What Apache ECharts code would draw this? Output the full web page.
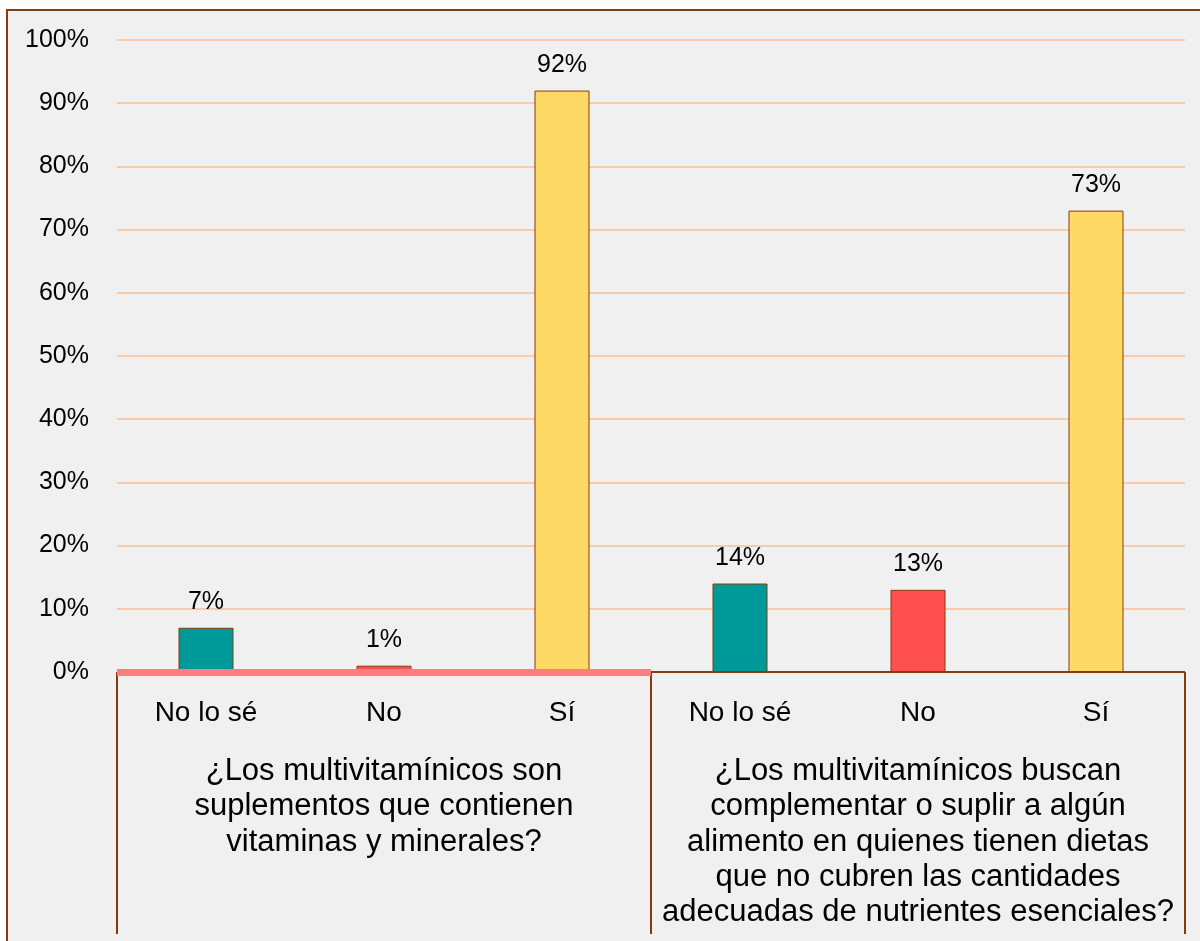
<!DOCTYPE html>
<html>
<head>
<meta charset="utf-8">
<script src="https://cdn.jsdelivr.net/npm/echarts@6/dist/echarts.min.js"></script>
<style>
  html, body { margin: 0; padding: 0; background: #ffffff; overflow: hidden; width: 1200px; height: 941px; }
  #chart {
    position: absolute; left: 6px; top: 9px;
    width: 1200px; height: 940px;
    border: 2px solid #843c0c;
    background: #f0f0f0;
  }
</style>
</head>
<body>
<div id="chart"></div>
<script>
// Survey answers per question
const answers = ['No lo sé', 'No', 'Sí'];
const questions = [
  '¿Los multivitamínicos son\nsuplementos que contienen\nvitaminas y minerales?',
  '¿Los multivitamínicos buscan\ncomplementar o suplir a algún\nalimento en quienes tienen dietas\nque no cubren las cantidades\nadecuadas de nutrientes esenciales?'
];
const valuesQ1 = [7, 1, 92];
const valuesQ2 = [14, 13, 73];

// Colour per answer
const answerColors = ['#009999', '#ff5050', '#ffd966'];
const FONT = "'Liberation Sans', Arial, sans-serif";
const BROWN = '#843c0c';

const chart = echarts.init(document.getElementById('chart'), null, { renderer: 'canvas' });

function grid(left) {
  return { left: left, top: 29, width: 534, height: 632, containLabel: false };
}

function answerAxis(gi, lineColor, lineWidth) {
  return {
    type: 'category', gridIndex: gi, data: answers, position: 'bottom', z: 5,
    axisLine: { show: true, lineStyle: { color: lineColor, width: lineWidth, cap: 'butt' } },
    axisTick: { show: false },
    axisLabel: { fontFamily: FONT, fontSize: 28, color: '#000', margin: 27 }
  };
}

function questionAxis(gi, qi) {
  return {
    type: 'category', gridIndex: gi, data: [questions[qi]], position: 'bottom', offset: 0,
    axisLine: { show: false },
    axisTick: { show: true, length: 262, lineStyle: { color: BROWN, width: 2 } },
    axisLabel: { fontFamily: FONT, fontSize: 31, color: '#000', margin: 82, lineHeight: 35.2, align: 'center' }
  };
}

function valueAxis(gi, showLabels) {
  return {
    type: 'value', gridIndex: gi, min: 0, max: 100, interval: 10,
    axisLine: { show: false }, axisTick: { show: false },
    axisLabel: { show: showLabels, formatter: '{value}%', fontFamily: FONT, fontSize: 25, color: '#000', margin: 28 },
    splitLine: { show: true, lineStyle: { color: '#f8cbad', width: 2 } }
  };
}

function barSeries(gi, values) {
  return {
    type: 'bar', xAxisIndex: gi * 2, yAxisIndex: gi, data: values, barWidth: 55,
    itemStyle: {
      color: (p) => answerColors[p.dataIndex],
      borderColor: BROWN, borderWidth: 1
    },
    label: {
      show: true, position: 'top', distance: 13, formatter: '{c}%',
      fontFamily: FONT, fontSize: 25, color: '#000'
    }
  };
}

chart.setOption({
  backgroundColor: '#f0f0f0',
  animation: false,
  grid: [grid(109), grid(643)],
  xAxis: [
    answerAxis(0, '#ff7c80', 7),
    questionAxis(0, 0),
    answerAxis(1, BROWN, 2),
    questionAxis(1, 1)
  ],
  yAxis: [valueAxis(0, true), valueAxis(1, false)],
  series: [barSeries(0, valuesQ1), barSeries(1, valuesQ2)]
});
</script>
</body>
</html>
